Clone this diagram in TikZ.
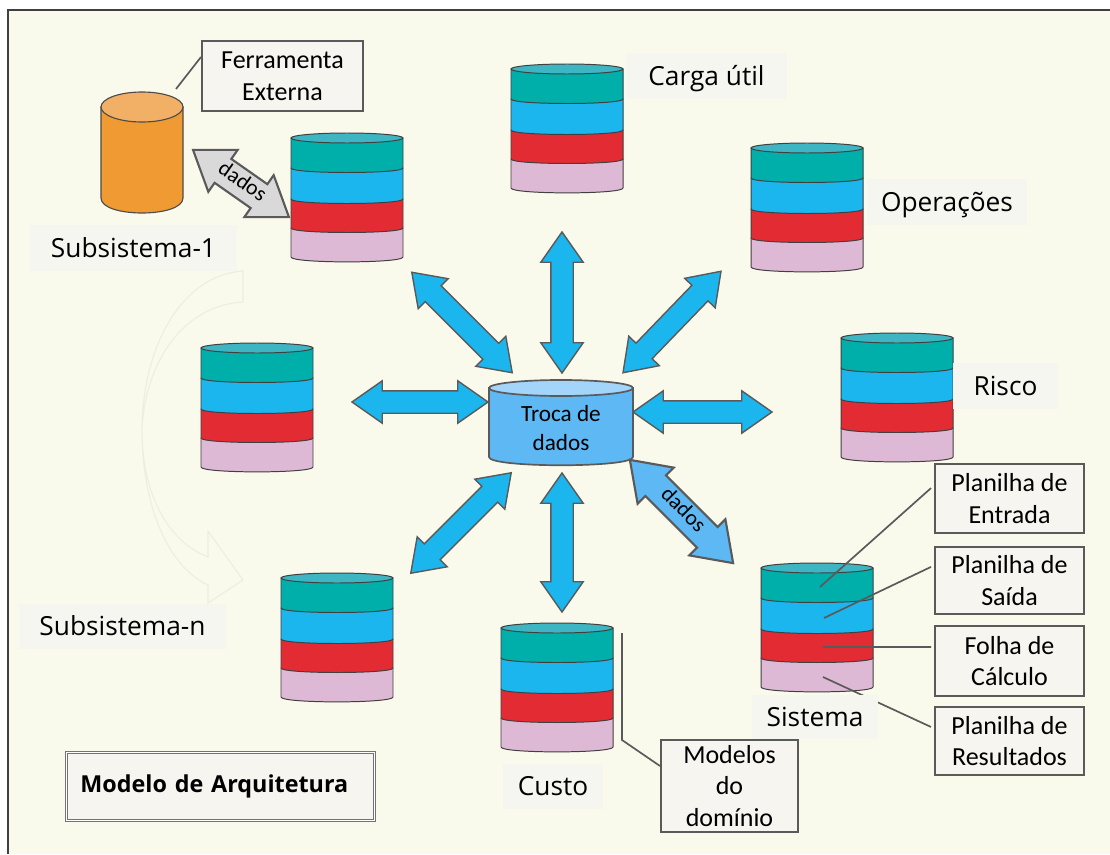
\documentclass[tikz,border=0pt]{standalone}
\usepackage{fontspec}
\setmainfont{Carlito}
\newfontfamily\labelfont{Open Sans}
\usepackage{xcolor}
\usetikzlibrary{positioning}
\usetikzlibrary{shapes.arrows}

\definecolor{paper}{HTML}{F9F9EC}
\definecolor{patch}{HTML}{F6F6F0}
\definecolor{boxfill}{HTML}{F6F5EF}
\definecolor{edge}{HTML}{5A5A5A}
\definecolor{faint}{HTML}{EDEDE2}
\definecolor{stackteal}{HTML}{00AFAA}
\definecolor{stacktop}{HTML}{3DB5C3}
\definecolor{stackblue}{HTML}{1CB6EE}
\definecolor{stackred}{HTML}{E32B33}
\definecolor{stackpink}{HTML}{DEB9D5}
\definecolor{hubblue}{HTML}{5DB8F3}
\definecolor{hubtop}{HTML}{A2D5F9}
\definecolor{toolorange}{HTML}{EF9A33}
\definecolor{tooltop}{HTML}{F1B066}

\newcommand{\stackdb}[3]{
    \node[stackarea] (#1) at (#2+56,#3+65) {};
    \begin{scope}[shift={(#2,#3)}]
        \draw[band, fill=stackpink] (0,96) -- (0,125) .. controls (0,131.5) and (112,131.5) .. (112,125) -- (112,96) -- cycle;
        \draw[band, fill=stackred] (0,67) -- (0,96) .. controls (0,102) and (112,102) .. (112,96) -- (112,67) -- cycle;
        \draw[band, fill=stackblue] (0,36) -- (0,67) .. controls (0,73) and (112,73) .. (112,67) -- (112,36) -- cycle;
        \draw[band, fill=stackteal] (0,6) -- (0,36) .. controls (0,42) and (112,42) .. (112,36) -- (112,6) -- cycle;
        \draw[band, fill=stacktop] (56,6) ellipse [x radius=56, y radius=5];
    \end{scope}
}

\begin{document}
\begin{tikzpicture}[
        x=0.025cm, y=-0.025cm,
        stackarea/.style={rectangle, minimum width=2.8cm, minimum height=3.25cm, inner sep=0pt},
        band/.style={draw=black!75, line width=0.7pt},
        box/.style={rectangle, draw=edge, fill=boxfill, line width=1.4pt, align=center, inner sep=0pt, minimum width=3.725cm, font=\fontsize{18.5}{22.5}\selectfont},
        tag/.style={rectangle, fill=patch, inner sep=0pt, text height=13.5pt, text depth=0pt, font=\labelfont\fontsize{18.7}{22}\selectfont},
        leader/.style={draw=edge, line width=1.2pt},
        blockarrow/.style={double arrow, draw=edge, fill=stackblue, line width=1pt, inner xsep=0pt, inner ysep=0.2625cm, double arrow head extend=0.25cm, double arrow tip angle=70},
        dataarrow/.style={blockarrow, line width=1.5pt, text height=0.25cm, text depth=0.05cm, inner ysep=0.1875cm, double arrow head extend=0.275cm, font=\fontsize{15.5}{17}\selectfont}
    ]
    \useasboundingbox (0,0) rectangle (1110,854);
    \fill[paper] (8,10) rectangle (1110,854);
    \draw[black!75, line width=1.4pt] (8,854) -- (8,10) -- (1110,10);

    \draw[faint, line width=0.8pt] (243,271) .. controls (180,275) and (142,350) .. (142,430) .. controls (142,500) and (165,565) .. (208,585) -- (208,603) -- (243,580) -- (208,531) -- (208,557) .. controls (165,540) and (142,490) .. (142,430) .. controls (145,360) and (185,305) .. (243,302) -- cycle;

    \stackdb{stack_sub1}{291}{132}
    \stackdb{stack_carga}{511}{63}
    \stackdb{stack_oper}{751}{142}
    \stackdb{stack_risco}{841}{332}
    \stackdb{stack_sist}{761}{562}
    \stackdb{stack_custo}{501}{622}
    \stackdb{stack_subn}{281}{572}
    \stackdb{stack_left}{201}{342}

    % external tool
    \draw[draw=black!70, line width=0.8pt, fill=toolorange] (101,107) -- (101,198) .. controls (101,218) and (183,218) .. (183,198) -- (183,107) -- cycle;
    \draw[draw=black!70, line width=0.8pt, fill=tooltop] (142,107) ellipse [x radius=41, y radius=15];

    % central store
    \draw[draw=edge, line width=1.2pt, fill=hubblue] (489,388) -- (489,457) .. controls (489,468) and (633,468) .. (633,457) -- (633,388) -- cycle;
    \draw[draw=edge, line width=1.2pt, fill=hubtop] (561,388) ellipse [x radius=72, y radius=8];
    \node[align=center, inner sep=0pt, font=\fontsize{16.5}{20}\selectfont] (hub) at (561,428) {Troca de\\dados};

    \node[blockarrow, minimum height=3.525cm, rotate=90] (arrow_up) at (562,302.5) {};
    \node[blockarrow, minimum height=3.55cm, rotate=-45] (arrow_ul) at (462,322.5) {};
    \node[blockarrow, minimum height=3.525cm, rotate=46] (arrow_ur) at (672,322) {};
    \node[blockarrow, minimum height=3.4cm] (arrow_left) at (420,402) {};
    \node[blockarrow, minimum height=3.475cm] (arrow_right) at (702.5,412) {};
    \node[blockarrow, minimum height=3.55cm, rotate=45] (arrow_ll) at (461,523) {};
    \node[blockarrow, minimum height=3.475cm, rotate=90] (arrow_down) at (562,542.5) {};
    \node[dataarrow, fill=hubblue, minimum height=3.65cm, rotate=-45] (arrow_data) at (681.5,511.5) {dados};
    \node[dataarrow, fill=black!15, minimum height=2.925cm, rotate=-35] (arrow_tool) at (241,183.5) {dados};

    \node[box, minimum width=4.025cm, minimum height=1.75cm] (box_tool) at (282.5,76) {Ferramenta\\Externa};
    \node[box, minimum height=1.725cm] (box_in) at (1009.5,498.5) {Planilha de\\Entrada};
    \node[box, minimum height=1.675cm] (box_out) [below=0.3cm of box_in] {Planilha de\\Saída};
    \node[box, minimum height=1.75cm] (box_calc) [below=0.25cm of box_out] {Folha de\\Cálculo};
    \node[box, minimum height=1.7cm] (box_res) [below=0.225cm of box_calc] {Planilha de\\Resultados};
    \node[box, minimum width=3.425cm, minimum height=2.3cm] (box_dom) at (729.5,786) {Modelos\\do\\domínio};

    \coordinate (in_end) at (820,587);
    \coordinate (out_end) at (824,618);
    \coordinate (calc_end) at (823,647);
    \coordinate (res_end) at (823,677);
    \coordinate (tool_end) at (176,89);
    \coordinate (dom_top) at (622,633);
    \coordinate (dom_bend) at (622,740);

    \draw[leader] (tool_end) to ([yshift=0.475cm]box_tool.west);
    \draw[leader] (in_end) to ([xshift=-0.075cm,yshift=0.26cm]box_in.west);
    \draw[leader] (out_end) to ([xshift=-0.075cm,yshift=0.34cm]box_out.west);
    \draw[leader] (calc_end) to ([xshift=-0.075cm,yshift=0.35cm]box_calc.west);
    \draw[leader] (res_end) to ([xshift=-0.075cm,yshift=0.35cm]box_res.west);
    \draw[leader] (dom_top) -- (dom_bend) -- ([yshift=0.5cm]box_dom.west);

    \node[tag, minimum width=5.175cm, minimum height=1.125cm] (tag_sub1) at (133.5,248) {Subsistema-1};
    \node[tag, minimum width=5.175cm, minimum height=1.125cm] (tag_subn) at (122.5,626) {Subsistema-n};
    \node[tag, minimum width=4.025cm, minimum height=1.15cm] (tag_carga) at (706.5,76) {Carga útil};
    \node[tag, minimum width=4cm, minimum height=1.15cm] (tag_oper) at (947,202) {Operações};
    \node[tag, minimum width=2.625cm, minimum height=1.15cm] (tag_risco) at (1005.5,386) {Risco};
    \node[tag, minimum width=2.5cm, minimum height=1.125cm] (tag_custo) at (553,786) {Custo};
    \node[tag, minimum width=3.15cm, minimum height=1.1cm] (tag_sist) at (815,717) {Sistema};

    \node[rectangle, draw=black!55, fill=boxfill, line width=0.5pt, double, double distance=1pt, minimum width=7.7cm, minimum height=1.7cm, text width=7cm, inner sep=0pt, font=\labelfont\bfseries\fontsize{16.6}{20}\selectfont] (title) at (220.5,786.5) {Modelo de Arquitetura};
\end{tikzpicture}
\end{document}
